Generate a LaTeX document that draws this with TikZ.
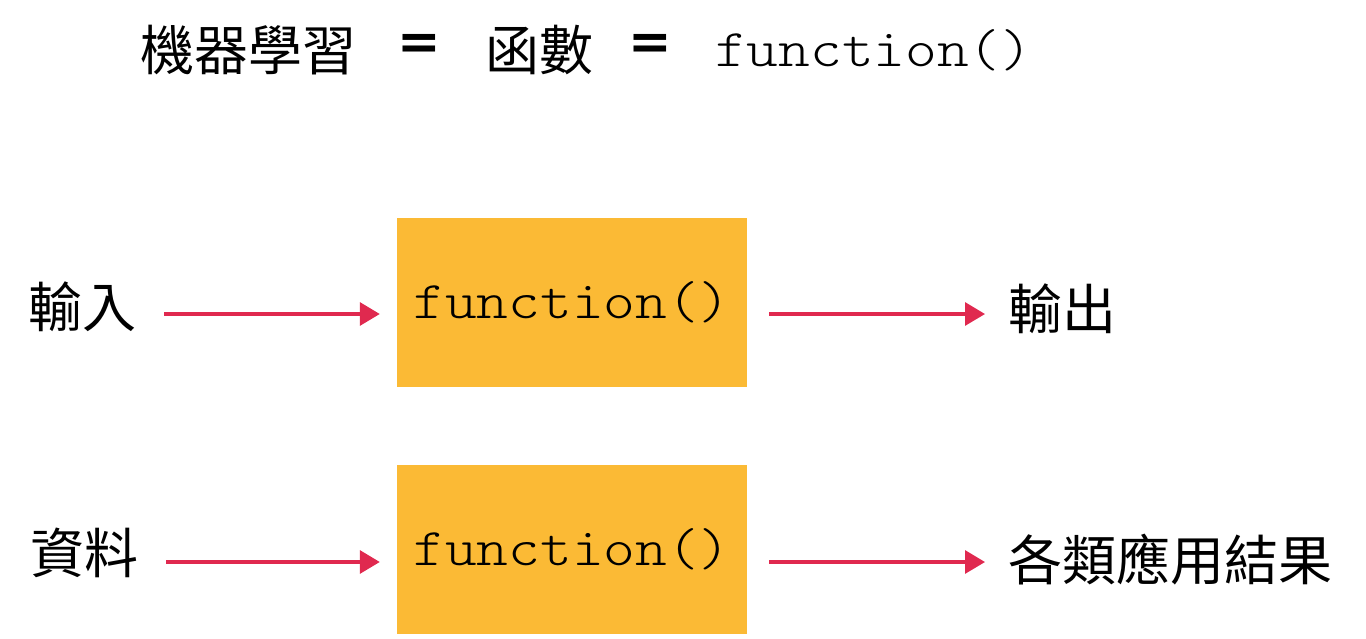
\documentclass[tikz,border=0pt]{standalone}
\usepackage{fontspec}
\usetikzlibrary{arrows.meta}
\newfontfamily\cjk{Noto Sans CJK TC}
\newfontfamily\mono[FakeStretch=1.14]{lmmonolt10-regular.otf}
\newfontfamily\eqfont{DejaVu Sans Bold}
\definecolor{boxfill}{HTML}{FBBA35}
\definecolor{arrowred}{HTML}{E0294F}
\begin{document}
\begin{tikzpicture}[x=1pt,y=-1pt,
  cjktext/.style={font=\cjk\fontsize{54}{60}\selectfont, inner sep=0, anchor=west},
  eqtext/.style={font=\eqfont\fontsize{52}{60}\selectfont, inner sep=0},
  monotext/.style={font=\mono\fontsize{53}{60}\selectfont, inner sep=0, anchor=west},
  fnbox/.style={fill=boxfill, minimum width=350pt, minimum height=169pt, inner sep=0,
    font=\mono\fontsize{53}{60}\selectfont},
  flow/.style={arrowred, line width=3.2pt, -{Triangle[length=20pt,width=23pt]}}]
\useasboundingbox (0,0) rectangle (1366,638);
% title
\node[cjktext] (t1) at (140,50) {機器學習};
\node[eqtext] (t2) at (419.5,46.5) {=};
\node[cjktext] (t3) at (485,50) {函數};
\node[eqtext] (t4) at (650,46.5) {=};
\node[monotext] (t5) at (715,50) {function()};
% row 1
\node[cjktext] (in1) at (28,307) {輸入};
\node[fnbox] (f1) at (572,302.5) {function()};
\node[cjktext] (out1) at (1008,309) {輸出};
% row 2
\node[cjktext] (in2) at (30,553) {資料};
\node[fnbox] (f2) at (572,549.5) {function()};
\node[cjktext] (out2) at (1008,560) {各類應用結果};
% arrows
\draw[flow, shorten <=28pt, shorten >=17pt] ([yshift=-7pt]in1.east) -- ([yshift=-11.5pt]f1.west);
\draw[flow, shorten <=22pt, shorten >=23pt] ([yshift=-11.5pt]f1.east) -- ([yshift=-5pt]out1.west);
\draw[flow, shorten <=28pt, shorten >=17pt] ([yshift=-9pt]in2.east) -- ([yshift=-12.5pt]f2.west);
\draw[flow, shorten <=22pt, shorten >=23pt] ([yshift=-12.5pt]f2.east) -- ([yshift=-2pt]out2.west);
\end{tikzpicture}
\end{document}
